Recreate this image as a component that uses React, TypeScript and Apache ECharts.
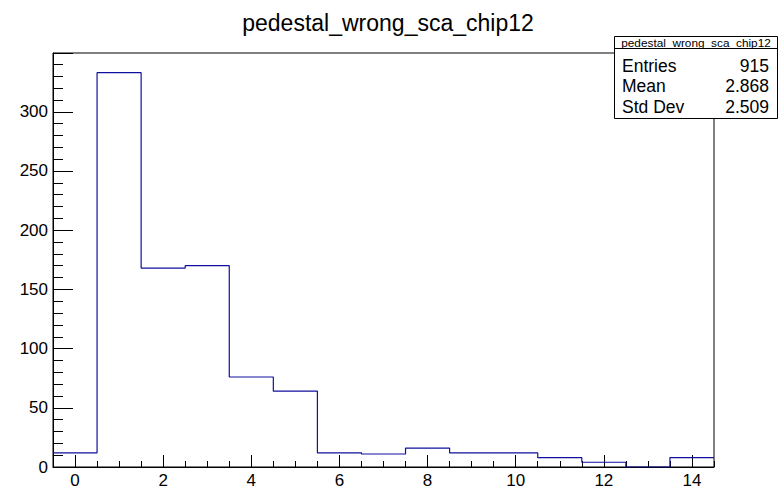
import React, { useEffect, useRef } from "react";
import * as echarts from "echarts";

const binCenters = [0, 1, 2, 3, 4, 5, 6, 7, 8, 9, 10, 11, 12, 13, 14];
const binCounts = [12, 333, 168, 170, 76, 64, 12, 11, 16, 12, 12, 8, 4, 0, 8];
const xMajorTicks = [0, 2, 4, 6, 8, 10, 12, 14];
const statsLabels = ["Entries", "Mean", "Std Dev"];
const statsValues = ["915", "2.868", "2.509"];
const histName = "pedestal_wrong_sca_chip12";

const FONT = "Liberation Sans, Arial, Helvetica, sans-serif";

export default function App() {
  const ref = useRef<HTMLDivElement>(null);
  useEffect(() => {
    if (!ref.current) return;
    const chart = echarts.init(ref.current, undefined, { renderer: "svg" });
    const half = 0.5;
    const edges = binCenters.map((c, i) => [c - half, binCounts[i]]);
    edges.push([binCenters[binCenters.length - 1] + half, binCounts[binCounts.length - 1]]);
    const xMinor: number[] = [];
    for (let v = binCenters[0] - half; v <= binCenters[binCenters.length - 1] + half + 1e-9; v += 0.5) xMinor.push(v);
    const xmin = binCenters[0] - half;
    const xmax = binCenters[binCenters.length - 1] + half;
    const ymax = Math.max(...binCounts) * 1.05;

    const rowY = [66, 86, 107];
    const statsGraphics: any[] = [
      {
        type: "rect",
        shape: { x: 614.5, y: 36.5, width: 163, height: 82 },
        style: { fill: "#fff", stroke: "#000", lineWidth: 1 },
        z: 100,
      },
      {
        type: "line",
        shape: { x1: 614.5, y1: 48.5, x2: 777.5, y2: 48.5 },
        style: { stroke: "#000", lineWidth: 1 },
        z: 101,
      },
      {
        type: "text",
        x: 696,
        y: 42.5,
        style: { text: histName, font: `11.8px ${FONT}`, fill: "#000", align: "center", verticalAlign: "middle" },
        z: 101,
      },
    ];
    statsLabels.forEach((l, i) => {
      statsGraphics.push({
        type: "text",
        x: 622,
        y: rowY[i],
        style: { text: l, font: `17.5px ${FONT}`, fill: "#000", align: "left", verticalAlign: "middle" },
        z: 101,
      });
      statsGraphics.push({
        type: "text",
        x: 769,
        y: rowY[i],
        style: { text: statsValues[i], font: `17.5px ${FONT}`, fill: "#000", align: "right", verticalAlign: "middle" },
        z: 101,
      });
    });

    chart.setOption({
      animation: false,
      backgroundColor: "#fff",
      title: {
        text: histName,
        left: 383,
        top: 6,
        textAlign: "center",
        textStyle: { fontFamily: FONT, fontSize: 23, fontWeight: "normal", color: "#000" },
      },
      grid: {
        left: 53,
        right: 70,
        top: 53,
        bottom: 21,
        show: true,
        borderColor: "#000",
        borderWidth: 1,
        backgroundColor: "transparent",
      },
      xAxis: [
        {
          type: "value",
          min: xmin,
          max: xmax,
          position: "bottom",
          axisLine: { show: true, onZero: false, lineStyle: { color: "#000", width: 1 } },
          axisTick: { show: true, inside: true, length: 12, customValues: xMajorTicks, lineStyle: { color: "#000" } },
          axisLabel: { show: true, customValues: xMajorTicks, color: "#000", fontFamily: FONT, fontSize: 17, margin: 5 },
          splitLine: { show: false },
        },
        {
          type: "value",
          min: xmin,
          max: xmax,
          position: "bottom",
          axisLine: { show: false, onZero: false },
          axisTick: { show: true, inside: true, length: 6, customValues: xMinor, lineStyle: { color: "#000" } },
          axisLabel: { show: false },
          splitLine: { show: false },
        },
      ],
      yAxis: {
        type: "value",
        min: 0,
        max: ymax,
        interval: 50,
        axisLine: { show: true, onZero: false, lineStyle: { color: "#000", width: 1 } },
        axisTick: { show: true, inside: true, length: 20, lineStyle: { color: "#000" } },
        minorTick: { show: true, splitNumber: 5, length: 10, lineStyle: { color: "#000" } },
        axisLabel: {
          color: "#000",
          fontFamily: FONT,
          fontSize: 17,
          margin: 5,
          showMaxLabel: false,
          formatter: (v: number) => (v % 50 === 0 && v <= 300 ? String(v) : ""),
        },
        splitLine: { show: false },
      },
      series: [
        {
          type: "line",
          xAxisIndex: 0,
          step: "end",
          data: edges,
          showSymbol: false,
          symbol: "none",
          lineStyle: { color: "#1010a0", width: 1.2 },
          clip: true,
        },
      ],
      graphic: statsGraphics,
    });
    return () => chart.dispose();
  }, []);
  return <div ref={ref} style={{ position: "fixed", left: 0, top: 0, width: 784, height: 489 }} />;
}
